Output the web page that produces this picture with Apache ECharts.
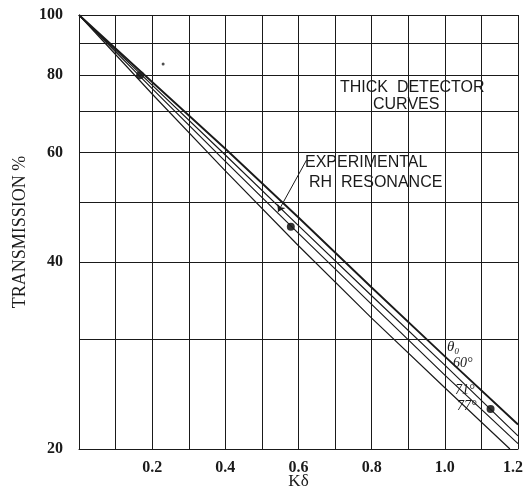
<!DOCTYPE html>
<html>
<head>
<meta charset="utf-8">
<script src="https://cdn.jsdelivr.net/npm/echarts@6/dist/echarts.min.js"></script>
<style>
html, body { margin: 0; padding: 0; background: #fff; }
#chart { width: 525px; height: 496px; }
</style>
</head>
<body>
<div id="chart"></div>
<script>
// curves (Kδ, transmission %)
var curve_x  = [0, 0.2, 0.4, 0.6, 0.8, 1.0, 1.2];
var curveA_x = [0, 0.2, 0.4, 0.6, 0.8, 1.0, 1.178];
var curveA_y = [100, 74.6, 56.1, 42.5, 32.5, 25.1, 20];
var curveB_y = [100, 76.1, 58.1, 44.5, 34.2, 26.3, 20.4];
var curveC_y = [100, 77.1, 59.5, 45.8, 35.3, 27.3, 21.0];
var curveD_y = [100, 78.0, 60.9, 47.2, 36.4, 28.2, 21.9];

// experimental Rh resonance points
var exp_x = [0.167, 0.579, 1.125];
var exp_y = [80, 45.6, 23.2];
var speck_x = [0.230];
var speck_y = [83.4];

var gridValues = [20, 30, 40, 50, 60, 70, 80, 90, 100];
var yTickLabels = [20, 40, 60, 80, 100];
var xTickLabels = ['0.2', '0.4', '0.6', '0.8', '1.0', '1.2'];

function pairs(xs, ys) {
    return xs.map(function (x, i) { return [x, ys[i]]; });
}

var ink = '#1a1a1a';
var serif = '"Liberation Serif", "DejaVu Serif", serif';
var letter = '"Liberation Sans", "DejaVu Sans", sans-serif';

function curve(name, xs, ys, w) {
    return {
        name: name,
        type: 'line',
        data: pairs(xs, ys),
        showSymbol: false,
        silent: true,
        lineStyle: { color: ink, width: w }
    };
}

var chart = echarts.init(document.getElementById('chart'));
chart.setOption({
    animation: false,
    grid: { left: 79, right: 7, top: 15, bottom: 47, outerBoundsMode: 'none', containLabel: false },
    xAxis: {
        type: 'value',
        min: 0,
        max: 1.2,
        interval: 0.1,
        name: 'Kδ',
        nameLocation: 'middle',
        nameGap: 24,
        nameMoveOverlap: false,
        nameTextStyle: { fontFamily: serif, fontSize: 17, color: ink, verticalAlign: 'top' },
        axisLine: { show: true, lineStyle: { color: ink, width: 1 } },
        axisTick: { show: false },
        axisLabel: {
            margin: 11,
            fontFamily: serif,
            fontWeight: 'bold',
            fontSize: 16,
            color: ink,
            formatter: function (v) {
                var s = v.toFixed(1);
                if (xTickLabels.indexOf(s) < 0) return '';
                // the last label sits a little left of its grid line, as in the print
                return s === '1.2' ? '{last|' + s + '}' : s;
            },
            rich: {
                last: { fontFamily: serif, fontWeight: 'bold', fontSize: 16, color: ink, padding: [0, 10, 0, 0] }
            }
        },
        splitLine: { show: true, lineStyle: { color: ink, width: 1 } }
    },
    yAxis: {
        type: 'log',
        min: 20,
        max: 100,
        name: 'TRANSMISSION %',
        nameLocation: 'middle',
        nameGap: 50,
        nameRotate: 90,
        nameMoveOverlap: false,
        nameTextStyle: { fontFamily: serif, fontSize: 18, color: ink },
        axisLine: { show: false },
        axisTick: { show: false },
        axisLabel: { show: false },
        splitLine: { show: false }
    },
    series: [
        curve('A', curveA_x, curveA_y, 1.2),
        curve('B', curve_x, curveB_y, 1.2),
        curve('C', curve_x, curveC_y, 1.2),
        curve('D', curve_x, curveD_y, 1.9),
        {
            name: 'experimental',
            type: 'scatter',
            data: pairs(exp_x, exp_y),
            symbolSize: 8,
            itemStyle: { color: '#000' },
            silent: true,
            markLine: {
                silent: true,
                symbol: ['none', 'none'],
                animation: false,
                lineStyle: { color: ink, width: 1, type: 'solid' },
                label: {
                    show: true,
                    position: 'start',
                    distance: 16,
                    fontFamily: serif,
                    fontWeight: 'bold',
                    fontSize: 16,
                    color: ink,
                    formatter: function (p) {
                        return yTickLabels.indexOf(p.value) >= 0 ? String(p.value) : '';
                    }
                },
                data: gridValues.map(function (v) { return { yAxis: v }; })
            }
        },
        {
            name: 'speck',
            type: 'scatter',
            data: pairs(speck_x, speck_y),
            symbolSize: 3,
            itemStyle: { color: '#222' },
            silent: true
        },
        {
            name: 'arrow',
            type: 'line',
            data: [],
            markLine: {
                silent: true,
                symbol: ['none', 'arrow'],
                symbolSize: 7,
                label: { show: false },
                lineStyle: { color: ink, width: 1, type: 'solid', curveness: 0.15 },
                data: [[{ coord: [0.622, 58.4] }, { coord: [0.544, 48.2] }]]
            }
        }
    ],
    graphic: [
        { type: 'text', left: 340, top: 80, style: { text: 'THICK  DETECTOR', font: '16px ' + letter, fill: ink } },
        { type: 'text', left: 373, top: 97, style: { text: 'CURVES', font: '16px ' + letter, fill: ink } },
        { type: 'text', left: 305, top: 155, style: { text: 'EXPERIMENTAL', font: '16px ' + letter, fill: ink } },
        { type: 'text', left: 309, top: 175, style: { text: 'RH  RESONANCE', font: '16px ' + letter, fill: ink } },
        { type: 'text', left: 447, top: 340, style: { text: 'θ₀', font: 'italic 15px ' + serif, fill: ink } },
        { type: 'text', left: 453, top: 356, style: { text: '60°', font: 'italic 14px ' + serif, fill: ink } },
        { type: 'text', left: 455, top: 383, style: { text: '71°', font: 'italic 14px ' + serif, fill: ink } },
        { type: 'text', left: 457, top: 399, style: { text: '77°', font: 'italic 14px ' + serif, fill: ink } }
    ]
});
</script>
</body>
</html>
